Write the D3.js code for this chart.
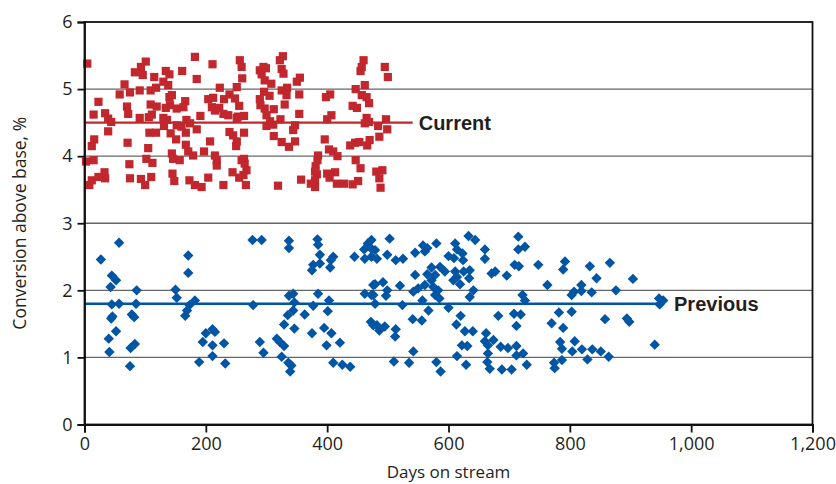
<!DOCTYPE html>
<html>
<head>
<meta charset="utf-8">
<script src="https://cdn.jsdelivr.net/npm/d3@7"></script>
<style>
  html, body { margin: 0; padding: 0; background: #fff; }
  svg { display: block; }
  text { fill: #231f20; }
</style>
</head>
<body>
<svg id="chart" width="836" height="484"></svg>
<script>
// ---- Data ----
const xTicks = [0, 200, 400, 600, 800, 1000, 1200];
const yTicks = [0, 1, 2, 3, 4, 5, 6];
const seriesNames = ["Current", "Previous"];
const currentMean = 4.5;
const previousMean = 1.8;
const currentLineEnd = 541;
const previousLineEnd = 952;

const currentPoints = [
  [4.6,5.38],[182,5.48],[211,5.37],[101,5.41],[93,5.33],[83,5.25],[96,5.21],[134,5.27],[140,5.22],[161,5.27],
  [115,5.18],[185,5.15],[130,5.11],[138,5.06],[66,5.07],[58,4.92],[75,4.95],[91,4.98],[109,4.98],[118,5.02],
  [140,4.88],[144,4.91],[166,4.82],[163,4.73],[134,4.72],[141,4.76],[152,4.71],[109,4.77],[119,4.74],[70,4.74],
  [72,4.63],[23,4.81],[15,4.62],[34,4.64],[39,4.56],[44,4.51],[91,4.57],[106,4.58],[111,4.62],[130,4.57],
  [136,4.54],[131,4.45],[152,4.46],[160,4.44],[168,4.54],[174,4.49],[167,4.35],[185,4.40],[142,4.34],[107,4.35],
  [118,4.35],[39,4.37],[16,4.25],[12,4.15],[71,4.20],[105,4.12],[151,4.25],[167,4.17],[171,4.07],[144,4.04],
  [146,3.96],[157,3.94],[179,4.01],[197,4.07],[207,4.22],[102,3.96],[112,3.90],[2.5,3.92],[15,3.94],[74,3.88],
  [145,3.74],[148,3.63],[110,3.69],[93,3.66],[100,3.57],[75,3.67],[33,3.76],[34,3.67],[23,3.69],[12,3.64],
  [8,3.57],[173,3.64],[182,3.57],[193,3.54],[204,3.68],[215,4.01],[218,3.94],[218,3.86],[229,3.57],[244,3.76],
  [255,3.68],[259,3.94],[250,4.15],[239,4.36],[245,4.31],[251,4.22],[253,4.59],[237,4.61],[223,5.02],[251,5.03],
  [230,4.85],[239,4.92],[248,4.86],[255,4.75],[204,4.85],[212,4.87],[210,4.73],[215,4.68],[222,4.72],[229,4.63],
  [191,4.60],[256,5.43],[259,5.33],[260,5.16],[251,4.57],
  [327,5.49],[322,5.43],[295,5.33],[299,5.31],[289,5.28],[292,5.22],[325,5.30],[328,5.23],[297,5.13],[308,5.08],
  [355,5.17],[350,5.11],[325,4.98],[334,5.02],[333,4.91],[354,4.92],[296,4.96],[305,4.90],[289,4.85],[290,4.76],
  [297,4.71],[312,4.70],[330,4.77],[300,4.61],[263,4.60],[306,4.52],[323,4.55],[354,4.63],[300,4.45],[311,4.47],
  [347,4.46],[344,4.39],[263,4.35],[312,4.30],[325,4.21],[347,4.22],[337,4.14],[398,4.88],[405,4.92],[407,4.61],
  [400,4.55],[396,4.25],[403,4.10],[410,4.07],[417,4.00],[385,4.01],[384,3.94],[381,3.85],[380,3.77],[383,3.73],
  [400,3.74],[413,3.76],[404,3.68],[380,3.64],[373,3.59],[380,3.54],[357,3.65],[319,3.56],[266,3.57],[263,3.96],
  [264,3.89],[267,3.79],[262,3.72],[416,3.59],[428,3.59],[442,3.58],[451,3.63],[447,3.94],[455,3.82],[438,4.16],
  [446,4.20],[466,4.16],[470,4.24],[486,4.29],[453,4.21],[465,4.57],[462,4.49],[469,4.51],[484,4.45],[497,4.55],
  [499,4.40],[449,4.72],[442,4.75],[469,4.79],[465,4.88],[457,4.91],[447,5.00],[462,5.06],[460,5.43],[457,5.33],
  [455,5.27],[495,5.33],[500,5.18],[491,3.79],[481,3.77],[486,3.67],[488,3.53]
];

const previousPoints = [
  [27,2.46],[57,2.71],[45,2.22],[52,2.15],[43,2.05],[86,2.00],[45,1.79],[57,1.80],[85,1.80],[44,1.58],
  [46,1.61],[78,1.64],[82,1.60],[52,1.39],[40,1.28],[41,1.08],[76,1.14],[83,1.20],[75,0.87],[171,2.52],
  [171,2.26],[150,2.01],[152,1.89],[182,1.85],[173,1.78],[169,1.70],[166,1.62],[211,1.42],[200,1.36],[215,1.38],
  [195,1.23],[211,1.18],[230,1.21],[211,1.02],[189,0.93],[232,0.91],
  [277,2.75],[292,2.75],[337,2.74],[337,2.63],[384,2.76],[385,2.68],[388,2.53],[410,2.50],[406,2.45],[377,2.38],
  [388,2.40],[375,2.30],[405,2.34],[445,2.50],[467,2.70],[473,2.62],[461,2.61],[462,2.47],[473,2.50],[278,1.78],
  [337,1.92],[344,1.95],[346,1.82],[344,1.70],[335,1.63],[329,1.49],[346,1.43],[385,1.95],[377,1.77],[363,1.64],
  [403,1.85],[401,1.69],[395,1.44],[407,1.36],[375,1.36],[421,1.22],[399,1.18],[317,1.28],[322,1.23],[329,1.17],
  [289,1.23],[295,1.07],[325,1.01],[336,0.92],[341,0.88],[339,0.79],[410,0.92],[425,0.89],[438,0.86],[462,1.95],
  [473,1.93],[476,2.08],[472,1.53],[476,1.48],
  [473,2.75],[503,2.77],[479,2.60],[499,2.53],[482,2.47],[513,2.45],[525,2.47],[545,2.56],[558,2.67],[561,2.58],
  [580,2.70],[565,2.63],[611,2.70],[614,2.61],[600,2.51],[609,2.48],[623,2.55],[624,2.45],[633,2.81],[644,2.75],
  [660,2.61],[660,2.47],[715,2.80],[715,2.61],[709,2.38],[696,2.22],[671,2.25],[677,2.28],[572,2.34],[565,2.24],
  [578,2.23],[586,2.35],[594,2.28],[611,2.28],[614,2.20],[625,2.28],[635,2.30],[634,2.18],[545,2.23],[572,2.15],
  [608,2.15],[619,2.09],[561,2.08],[575,2.05],[583,2.00],[550,2.03],[542,1.98],[520,2.07],[492,2.12],[479,2.09],
  [499,2.00],[497,1.92],[476,1.93],[479,1.80],[524,1.78],[578,1.93],[585,1.88],[557,1.85],[567,1.70],[600,1.74],
  [635,1.90],[641,2.00],[620,1.62],[613,1.49],[541,1.57],[556,1.55],[682,1.62],[708,1.65],[712,1.47],[482,1.48],
  [486,1.40],[495,1.46],[513,1.42],[512,1.31],[627,1.39],[640,1.39],[662,1.36],[660,1.24],[674,1.26],[665,1.18],
  [622,1.18],[631,1.17],[686,1.16],[698,1.14],[712,1.17],[665,1.06],[712,1.03],[542,1.09],[614,1.02],[510,0.94],
  [535,0.92],[580,0.93],[587,0.79],[629,0.89],[664,0.93],[668,0.83],[688,0.82],[704,0.82],
  [726,2.65],[716,2.36],[748,2.38],[792,2.43],[789,2.31],[833,2.36],[866,2.41],[844,2.18],[904,2.17],[763,2.08],
  [819,2.08],[819,1.99],[807,1.98],[803,1.93],[836,1.97],[876,2.00],[722,1.93],[726,1.85],[947,1.88],[954,1.85],
  [948,1.79],[719,1.64],[782,1.67],[803,1.68],[770,1.51],[789,1.44],[858,1.57],[894,1.58],[898,1.53],[784,1.23],
  [808,1.24],[787,1.13],[804,1.09],[820,1.12],[837,1.12],[851,1.09],[940,1.19],[723,1.06],[864,1.01],[829,0.97],
  [787,0.96],[774,0.92],[775,0.84],[729,0.89]
];

// ---- Layout ----
const svg = d3.select("#chart");
const margin = { left: 84.5, right: 836 - 812.5, top: 22, bottom: 484 - 424.5 };
const W = 836, H = 484;
const x = d3.scaleLinear().domain([0, 1200]).range([margin.left, W - margin.right]);
const y = d3.scaleLinear().domain([0, 6]).range([H - margin.bottom, margin.top]);

const red = "#c1272d";
const blue = "#0055a4";
const sansFont = "'Open Sans', 'Liberation Sans', Arial, sans-serif";
const boldFont = "'Liberation Sans', Arial, sans-serif";

// gridlines
svg.append("g")
  .selectAll("line")
  .data(yTicks.filter(d => d > 0 && d < 6))
  .join("line")
  .attr("x1", x(0)).attr("x2", x(1200))
  .attr("y1", d => y(d)).attr("y2", d => y(d))
  .attr("stroke", "#666").attr("stroke-width", 1.4);

// points: current (squares)
const sq = 8.2;
svg.append("g")
  .selectAll("rect")
  .data(currentPoints)
  .join("rect")
  .attr("x", d => x(d[0]) - sq / 2)
  .attr("y", d => y(d[1]) - sq / 2)
  .attr("width", sq).attr("height", sq)
  .attr("fill", red);

// points: previous (diamonds)
const diamond = d3.symbol().type(d3.symbolSquare).size(54);
svg.append("g")
  .selectAll("path")
  .data(previousPoints)
  .join("path")
  .attr("d", diamond)
  .attr("transform", d => `translate(${x(d[0])},${y(d[1])}) rotate(45)`)
  .attr("fill", blue);

// mean lines
svg.append("line")
  .attr("x1", x(0)).attr("x2", x(currentLineEnd))
  .attr("y1", y(currentMean)).attr("y2", y(currentMean))
  .attr("stroke", red).attr("stroke-width", 2.2);
svg.append("line")
  .attr("x1", x(0)).attr("x2", x(previousLineEnd))
  .attr("y1", y(previousMean)).attr("y2", y(previousMean))
  .attr("stroke", blue).attr("stroke-width", 2.6);

// series labels
svg.append("text")
  .attr("x", x(currentLineEnd) + 6).attr("y", y(currentMean) + 7)
  .style("font-family", boldFont)
  .style("font-size", "20px").style("font-weight", "bold")
  .text(seriesNames[0]);
svg.append("text")
  .attr("x", x(previousLineEnd) + 12).attr("y", y(previousMean) + 7)
  .style("font-family", boldFont)
  .style("font-size", "20px").style("font-weight", "bold")
  .text(seriesNames[1]);

// frame
svg.append("rect")
  .attr("x", x(0)).attr("y", y(6))
  .attr("width", x(1200) - x(0)).attr("height", y(0) - y(6))
  .attr("fill", "none").attr("stroke", "#111").attr("stroke-width", 1.8);

// axes
const fmt = d3.format(",");
const xAxis = svg.append("g")
  .attr("transform", `translate(0,${y(0)})`)
  .call(d3.axisBottom(x).tickValues(xTicks).tickFormat(fmt).tickSize(8).tickPadding(5));
const yAxis = svg.append("g")
  .attr("transform", `translate(${x(0)},0)`)
  .call(d3.axisLeft(y).tickValues(yTicks).tickFormat(d3.format("d")).tickSize(7).tickPadding(5));

[xAxis, yAxis].forEach(g => {
  g.select(".domain").attr("stroke", "#111").attr("stroke-width", 1.8);
  g.selectAll(".tick line").attr("stroke", "#111").attr("stroke-width", 1.8);
  g.selectAll(".tick text")
    .style("font-family", sansFont)
    .style("font-size", "18px").style("fill", "#231f20");
});

// axis titles
svg.append("text")
  .attr("x", (x(0) + x(1200)) / 2).attr("y", 478)
  .attr("text-anchor", "middle")
  .style("font-family", sansFont).style("font-size", "17px")
  .text("Days on stream");
svg.append("text")
  .attr("transform", `translate(26,${(y(0) + y(6)) / 2}) rotate(-90)`)
  .attr("text-anchor", "middle")
  .style("font-family", sansFont).style("font-size", "17.5px")
  .text("Conversion above base, %");
</script>
</body>
</html>
